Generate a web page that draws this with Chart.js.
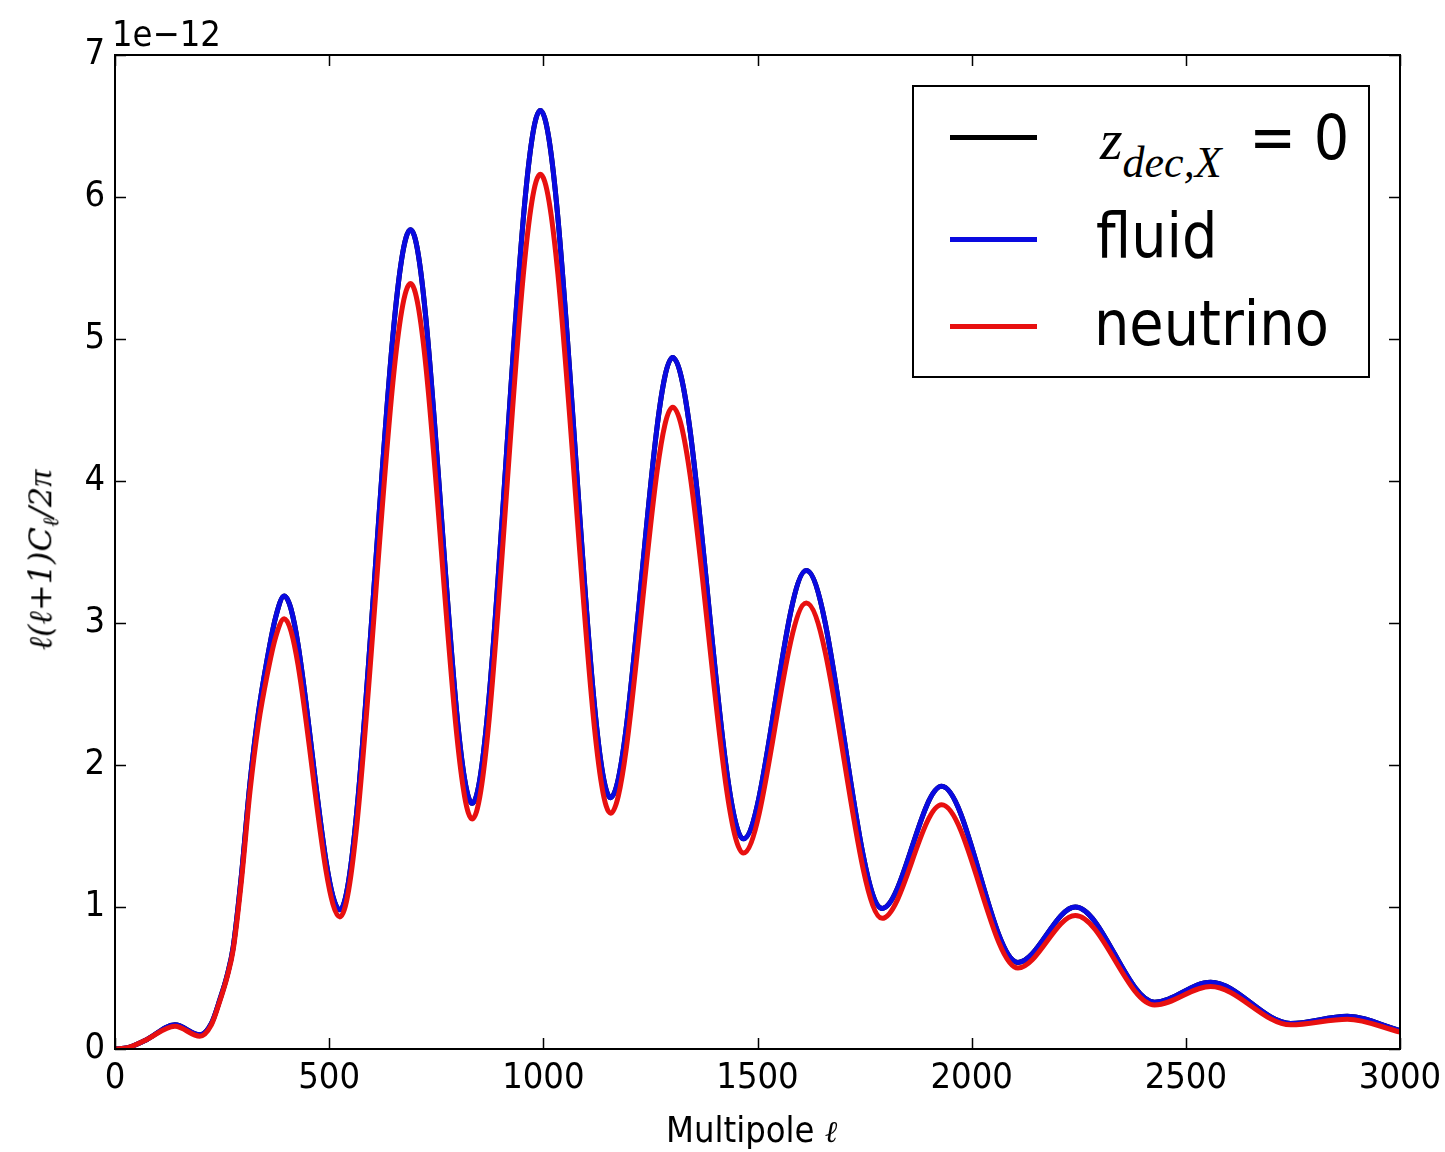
<!DOCTYPE html>
<html>
<head>
<meta charset="utf-8">
<script src="https://cdn.jsdelivr.net/npm/chart.js@4/dist/chart.umd.min.js"></script>
<style>
    html, body { margin: 0; padding: 0; background: #fff; }
    #wrap { position: relative; width: 1445px; height: 1152px; }
    #wrap canvas { position: absolute; left: 0; top: 0; }
    .txt { position: absolute; font-family: "DejaVu Sans Condensed", "DejaVu Sans", sans-serif; color: #000; white-space: nowrap; line-height: 1; }
    .math { font-family: "DejaVu Serif", serif; font-style: italic; }
    .lib { font-family: "Liberation Serif", "DejaVu Serif", serif; font-style: italic; }
    #legend { position: absolute; left: 912px; top: 85px; width: 454px; height: 289px; border: 2px solid #000; background: #fff; }
    .lg-line { position: absolute; left: 36px; width: 87px; height: 5px; }
</style>
</head>
<body>
<div id="wrap">
    <canvas id="cmbChart" width="1445" height="1152"></canvas>

    <div class="txt" style="left:112px; top:16px; font-size:36px;">1e−12</div>

    <div class="txt" style="left:666px; top:1112px; font-size:36px;">Multipole <span class="math" style="font-size:30px;">ℓ</span></div>

    <div class="txt math" style="left:43px; top:560px; font-size:32px; transform: translate(-50%, -50%) rotate(-90deg);">ℓ(ℓ+1)<span>C</span><sub style="font-size:22px;">ℓ</sub>/2<span class="lib" style="font-size:34px;">π</span></div>

    <div id="legend">
        <div class="lg-line" style="top:48px; background:#000;"></div>
        <div class="lg-line" style="top:150px; background:#0a0ae0;"></div>
        <div class="lg-line" style="top:237px; background:#e81010;"></div>
        <div class="txt" style="left:186px; top:20px; font-size:62px;"><span class="lib" style="font-size:58px;">z</span><sub class="lib" style="font-size:44px; position:relative; top:5px; margin-right:10px;">dec,X</sub> = 0</div>
        <div class="txt" style="left:182px; top:118px; font-size:62px;">fluid</div>
        <div class="txt" style="left:180px; top:206px; font-size:62px;">neutrino</div>
    </div>
</div>

<script>
// multipole positions (shared by all curves)
const ells = [0, 30, 70, 140, 198, 225, 245, 262, 276, 295, 315, 335, 355, 375, 395, 525, 690, 834, 993, 1157,
    1302, 1467, 1614, 1791, 1930, 2108, 2242, 2427, 2558, 2745, 2877, 3000];

// l(l+1)C_l/2pi in units of 1e-12
const zdecValues = [0, 0.01, 0.06, 0.17, 0.10, 0.18, 0.35, 0.52, 0.72, 1.22, 1.87, 2.37, 2.74, 3.04, 3.19, 0.98, 5.77, 1.73, 6.61, 1.77,
    4.87, 1.48, 3.37, 0.99, 1.85, 0.61, 1.00, 0.33, 0.47, 0.18, 0.23, 0.13];
const fluidValues = [0, 0.01, 0.06, 0.17, 0.10, 0.18, 0.35, 0.52, 0.72, 1.22, 1.87, 2.37, 2.74, 3.04, 3.19, 0.98, 5.77, 1.73, 6.61, 1.77,
    4.87, 1.48, 3.37, 0.99, 1.85, 0.61, 1.00, 0.33, 0.47, 0.18, 0.23, 0.13];
const neutrinoValues = [0, 0.01, 0.06, 0.16, 0.09, 0.17, 0.34, 0.51, 0.70, 1.18, 1.81, 2.29, 2.63, 2.90, 3.03, 0.93, 5.39, 1.62, 6.16, 1.66,
    4.52, 1.38, 3.14, 0.92, 1.72, 0.57, 0.94, 0.31, 0.44, 0.17, 0.21, 0.12];

const xTicks = [0, 500, 1000, 1500, 2000, 2500, 3000];
const yTicks = [0, 1, 2, 3, 4, 5, 6, 7];

const FONT = "'DejaVu Sans Condensed', 'DejaVu Sans', sans-serif";

function toPoints(values) {
    return ells.map((l, i) => ({ x: l, y: values[i] }));
}

/* frame + inward ticks on all four sides, matplotlib style */
const frameTicks = {
    id: "frameTicks",
    afterDatasetsDraw(chart) {
        const { ctx, chartArea: a, scales } = chart;
        const len = 11;
        ctx.save();
        ctx.strokeStyle = "#000";
        ctx.lineWidth = 1.5;
        ctx.beginPath();
        xTicks.forEach(v => {
            const px = Math.round(scales.x.getPixelForValue(v)) + 0.5;
            ctx.moveTo(px, a.bottom); ctx.lineTo(px, a.bottom - len);
            ctx.moveTo(px, a.top); ctx.lineTo(px, a.top + len);
        });
        yTicks.forEach(v => {
            const py = Math.round(scales.y.getPixelForValue(v)) + 0.5;
            ctx.moveTo(a.left, py); ctx.lineTo(a.left + len, py);
            ctx.moveTo(a.right, py); ctx.lineTo(a.right - len, py);
        });
        ctx.stroke();
        ctx.lineWidth = 2;
        ctx.strokeRect(a.left, a.top, a.right - a.left, a.bottom - a.top);
        ctx.restore();
    }
};

const lineStyle = {
    borderWidth: 5,
    pointRadius: 0,
    fill: false,
    cubicInterpolationMode: "monotone"
};

new Chart(document.getElementById("cmbChart"), {
    type: "line",
    data: {
        datasets: [
            { label: "z_dec,X = 0", data: toPoints(zdecValues), borderColor: "#000", order: 2, ...lineStyle },
            { label: "fluid", data: toPoints(fluidValues), borderColor: "#0a0ae0", order: 1, ...lineStyle },
            { label: "neutrino", data: toPoints(neutrinoValues), borderColor: "#e81010", order: 0, ...lineStyle }
        ]
    },
    options: {
        responsive: false,
        animation: false,
        devicePixelRatio: 1,
        layout: { padding: { top: 55, right: 45, left: 0, bottom: 0 } },
        plugins: {
            legend: { display: false },
            tooltip: { enabled: false }
        },
        scales: {
            x: {
                type: "linear",
                min: 0,
                max: 3000,
                afterBuildTicks: s => { s.ticks = xTicks.map(v => ({ value: v })); },
                afterFit: s => { s.height = 103; s.paddingLeft = 0; s.paddingRight = 0; },
                ticks: { font: { family: FONT, size: 36 }, color: "#000", padding: 8, maxRotation: 0, autoSkip: false, callback: v => String(v) },
                grid: { display: false, drawTicks: false },
                border: { display: false }
            },
            y: {
                type: "linear",
                min: 0,
                max: 7,
                afterBuildTicks: s => { s.ticks = yTicks.map(v => ({ value: v })); },
                afterFit: s => { s.width = 115; s.paddingTop = 0; s.paddingBottom = 0; },
                ticks: { font: { family: FONT, size: 36 }, color: "#000", padding: 10, callback: v => String(v) },
                grid: { display: false, drawTicks: false },
                border: { display: false }
            }
        }
    },
    plugins: [frameTicks]
});
</script>
</body>
</html>
